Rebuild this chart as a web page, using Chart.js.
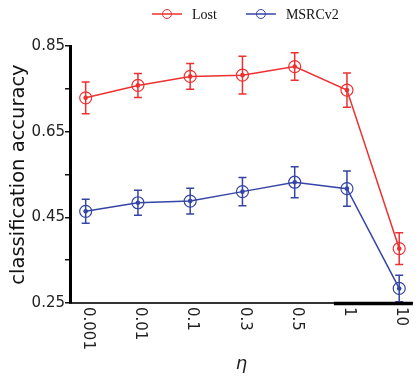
<!DOCTYPE html>
<html>
<head>
<meta charset="utf-8">
<script src="https://cdn.jsdelivr.net/npm/chart.js@4.4.1/dist/chart.umd.min.js"></script>
<style>
html, body { margin: 0; padding: 0; background: #fff; }
</style>
</head>
<body>
<canvas id="myChart" width="420" height="379"></canvas>
<script>
// eta values on the x axis
const etaLabels = ['0.001', '0.01', '0.1', '0.3', '0.5', '1', '10'];
// Lost
const lostAcc = [0.729, 0.758, 0.779, 0.782, 0.802, 0.747, 0.377];
const lostErr = [0.037, 0.028, 0.030, 0.044, 0.032, 0.040, 0.037];
// MSRCv2
const msrcAcc = [0.464, 0.484, 0.488, 0.510, 0.532, 0.517, 0.284];
const msrcErr = [0.028, 0.029, 0.030, 0.033, 0.036, 0.041, 0.031];
// labelled ticks on the y axis
const yTickLabels = [0.25, 0.45, 0.65, 0.85];

const RED = '#ee3030';
const BLUE = '#3545a5';

function ToPoints (_values)
{
    return _values.map((v, i) => ({ x: i, y: v }));
}

// error bars + small filled dot in the middle of each circle
const errorBarPlugin =
{
    id: 'errorBars',
    afterDatasetsDraw (chart)
    {
        const ctx = chart.ctx;
        const yScale = chart.scales.y;
        chart.data.datasets.forEach((ds, di) => {
            const meta = chart.getDatasetMeta(di);
            ctx.save();
            ctx.strokeStyle = ds.borderColor;
            ctx.fillStyle = ds.borderColor;
            ctx.lineWidth = 1.5;
            meta.data.forEach((pt, i) => {
                const v = ds.data[i].y;
                const e = ds.errors[i];
                const top = yScale.getPixelForValue(v + e);
                const bottom = yScale.getPixelForValue(v - e);
                ctx.beginPath();
                ctx.moveTo(pt.x, top);
                ctx.lineTo(pt.x, bottom);
                ctx.moveTo(pt.x - 4, top);
                ctx.lineTo(pt.x + 4, top);
                ctx.moveTo(pt.x - 4, bottom);
                ctx.lineTo(pt.x + 4, bottom);
                ctx.stroke();
                ctx.beginPath();
                ctx.arc(pt.x, pt.y, 2.3, 0, Math.PI * 2);
                ctx.fill();
            });
            ctx.restore();
        });
    }
};

// x tick labels, turned clockwise so they read downwards
const xLabelPlugin =
{
    id: 'xLabels',
    afterDraw (chart)
    {
        const ctx = chart.ctx;
        const xScale = chart.scales.x;
        const y0 = chart.chartArea.bottom + 4;
        ctx.save();
        ctx.font = '15px "DejaVu Sans"';
        ctx.fillStyle = '#222';
        ctx.textAlign = 'left';
        ctx.textBaseline = 'middle';
        etaLabels.forEach((lab, i) => {
            const x = xScale.getPixelForValue(i) + 2;
            ctx.save();
            ctx.translate(x, y0);
            ctx.rotate(Math.PI / 2);
            ctx.fillText(lab, 0, 0);
            ctx.restore();
        });
        // heavier stroke on the right part of the x axis
        ctx.strokeStyle = '#000';
        ctx.lineWidth = 3.5;
        ctx.beginPath();
        ctx.moveTo(xScale.getPixelForValue(4.75), chart.chartArea.bottom + 0.5);
        ctx.lineTo(chart.chartArea.right, chart.chartArea.bottom + 0.5);
        ctx.stroke();
        ctx.restore();
    }
};

// legend: short line with an open circle, then the name
const legendPlugin =
{
    id: 'lineLegend',
    afterDraw (chart)
    {
        const ctx = chart.ctx;
        const area = chart.chartArea;
        const y = 14;
        const lineLen = 30, gap = 10, itemGap = 29;
        ctx.save();
        ctx.font = '14px "Liberation Serif"';
        const items = chart.data.datasets.map(ds => ({
            text: ds.label,
            color: ds.borderColor,
            w: lineLen + gap + ctx.measureText(ds.label).width
        }));
        const total = items.reduce((s, it) => s + it.w, 0) + itemGap * (items.length - 1);
        let x = (area.left + area.right) / 2 + 4 - total / 2;
        items.forEach(it => {
            ctx.strokeStyle = it.color;
            ctx.lineWidth = 1.5;
            ctx.beginPath();
            ctx.moveTo(x, y);
            ctx.lineTo(x + lineLen, y);
            ctx.stroke();
            ctx.lineWidth = 1;
            ctx.beginPath();
            ctx.arc(x + lineLen / 2, y, 4.5, 0, Math.PI * 2);
            ctx.stroke();
            ctx.fillStyle = '#111';
            ctx.textAlign = 'left';
            ctx.textBaseline = 'middle';
            ctx.fillText(it.text, x + lineLen + gap, y + 1);
            x += it.w + itemGap;
        });
        ctx.restore();
    }
};

const data =
{
    datasets:
    [
        {
            label: 'Lost',
            data: ToPoints(lostAcc),
            errors: lostErr,
            borderColor: RED,
            backgroundColor: 'rgba(0,0,0,0)',
            borderWidth: 1.5,
            pointRadius: 6,
            pointBorderWidth: 1.2,
            pointBackgroundColor: 'rgba(0,0,0,0)',
            pointBorderColor: RED,
            tension: 0
        },
        {
            label: 'MSRCv2',
            data: ToPoints(msrcAcc),
            errors: msrcErr,
            borderColor: BLUE,
            backgroundColor: 'rgba(0,0,0,0)',
            borderWidth: 1.5,
            pointRadius: 6,
            pointBorderWidth: 1.2,
            pointBackgroundColor: 'rgba(0,0,0,0)',
            pointBorderColor: BLUE,
            tension: 0
        }
    ]
};

const config =
{
    type: 'line',
    data: data,
    plugins: [errorBarPlugin, xLabelPlugin, legendPlugin],
    options:
    {
        responsive: false,
        animation: false,
        events: [],
        layout: { padding: { top: 46, right: 0, bottom: 0, left: 0 } },
        plugins:
        {
            legend: { display: false },
            tooltip: { enabled: false }
        },
        scales:
        {
            x:
            {
                type: 'linear',
                min: -0.3,
                max: 6.26,
                grid: { display: false },
                border: { display: true, color: '#333', width: 2 },
                ticks: { display: false },
                title:
                {
                    display: true,
                    text: 'η',
                    color: '#222',
                    font: { family: 'DejaVu Sans', size: 18, style: 'italic' },
                    padding: { top: 0, bottom: 4 }
                },
                afterFit (scale) { scale.height = 76; }
            },
            y:
            {
                min: 0.25,
                max: 0.85,
                grid: { drawOnChartArea: false, drawTicks: true, tickLength: 5, color: '#111', lineWidth: 1.5 },
                border: { display: true, color: '#000', width: 3 },
                ticks:
                {
                    stepSize: 0.1,
                    padding: 0,
                    color: '#222',
                    font: { family: 'DejaVu Sans', size: 15 },
                    callback: function (value)
                    {
                        const hit = yTickLabels.find(t => Math.abs(t - value) < 1e-6);
                        return hit !== undefined ? hit.toFixed(2) : '';
                    }
                },
                title:
                {
                    display: true,
                    text: 'classification accuracy',
                    color: '#111',
                    font: { family: 'DejaVu Sans', size: 19.5 },
                    padding: { top: 7, bottom: 0 }
                },
                afterFit (scale) { scale.width = 70; }
            }
        }
    }
};

const ctx = document.getElementById('myChart').getContext('2d');
if (ctx) {
    const myChart = new Chart(ctx, config);
} else {
    console.error('Element with ID "myChart" not found.');
}
</script>
</body>
</html>
